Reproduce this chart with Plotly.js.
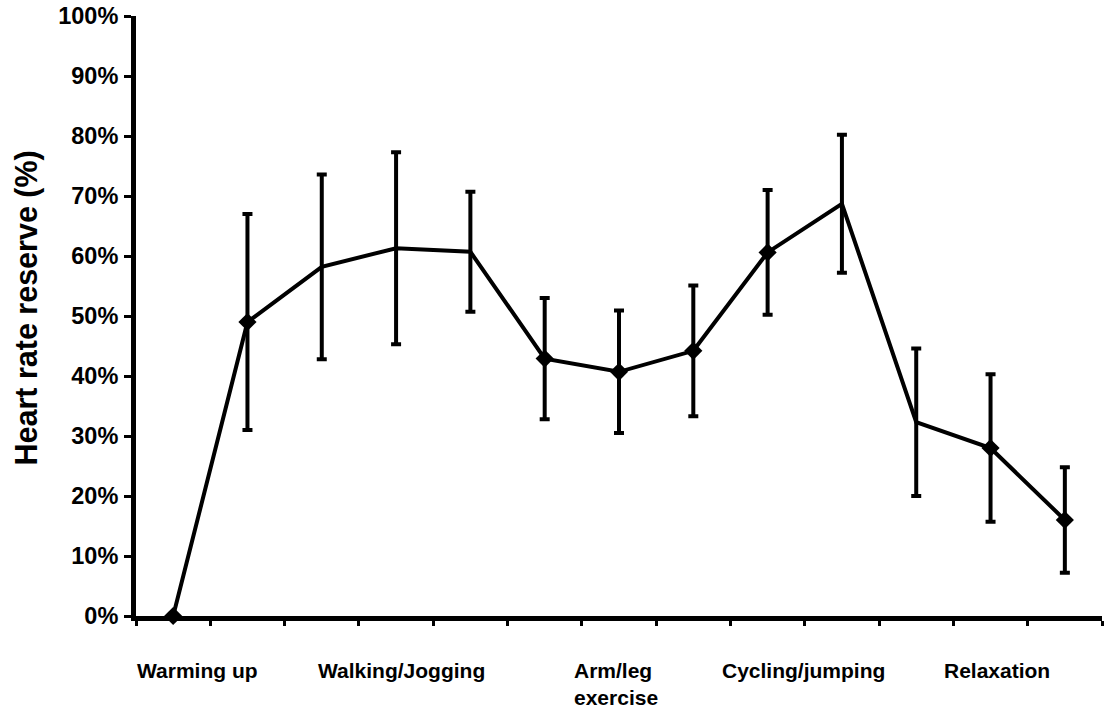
<!DOCTYPE html>
<html>
<head>
<meta charset="utf-8">
<script src="https://cdn.plot.ly/plotly-3.0.1.min.js"></script>
<style>html,body{margin:0;padding:0;background:#fff;}#chart{width:1104px;height:712px;}</style>
</head>
<body>
<div id="chart"></div>
<script>
// Data
var stepIndex = [0, 1, 2, 3, 4, 5, 6, 7, 8, 9, 10, 11, 12];
var hrReserve = [0, 49.0, 58.2, 61.3, 60.7, 42.9, 40.7, 44.2, 60.6, 68.7, 32.3, 28.0, 16.0];
var hrError   = [null, 18.0, 15.4, 16.0, 10.0, 10.1, 10.2, 10.9, 10.4, 11.5, 12.3, 12.3, 8.8];
var markedSteps = [0, 1, 5, 6, 7, 8, 11, 12];
var groupLabels = ['Warming up', 'Walking/Jogging', 'Arm/leg<br>exercise', 'Cycling/jumping', 'Relaxation'];
var groupCenters = [0.33, 3.07, 5.96, 8.48, 11.09];
var yTickVals = [0, 10, 20, 30, 40, 50, 60, 70, 80, 90, 100];
var boundaryTicks = [-0.5, 0.5, 1.5, 2.5, 3.5, 4.5, 5.5, 6.5, 7.5, 8.5, 9.5, 10.5, 11.5, 12.5];
var yTitle = 'Heart rate reserve (%)';

var FONT = 'Liberation Sans, Arial, Helvetica, sans-serif';

var lineTrace = {
  x: stepIndex,
  y: hrReserve,
  type: 'scatter',
  mode: 'lines',
  line: {color: '#000', width: 4},
  error_y: {type: 'data', array: hrError, visible: true, color: '#000', thickness: 4, width: 5},
  cliponaxis: false,
  showlegend: false,
  hoverinfo: 'skip'
};

var markerTrace = {
  x: markedSteps.map(function(i){ return stepIndex[i]; }),
  y: markedSteps.map(function(i){ return hrReserve[i]; }),
  type: 'scatter',
  mode: 'markers',
  marker: {symbol: 'diamond', size: 14, color: '#000', line: {width: 0}},
  cliponaxis: false,
  showlegend: false
};

var annotations = groupLabels.map(function(t, k){
  return {
    x: groupCenters[k], xref: 'x',
    y: -0.069, yref: 'paper',
    yanchor: 'top', xanchor: 'center',
    text: t, showarrow: false, align: 'left',
    font: {family: FONT, size: 21, color: '#000', weight: 'bold'}
  };
});
annotations.push({
  x: -0.1135, xref: 'paper', xanchor: 'center',
  y: 0.513, yref: 'paper', yanchor: 'middle',
  text: yTitle, textangle: -90, showarrow: false,
  font: {family: FONT, size: 30.5, color: '#000', weight: 'bold'}
});

var layout = {
  width: 1104, height: 712,
  margin: {l: 136, r: 2, t: 16, b: 96},
  paper_bgcolor: '#fff', plot_bgcolor: '#fff',
  font: {family: FONT, color: '#000'},
  showlegend: false,
  xaxis: {
    type: 'linear',
    range: [-0.5, 12.5],
    showgrid: false, zeroline: false,
    showline: true, linecolor: '#000', linewidth: 5,
    tickmode: 'array', tickvals: boundaryTicks, ticktext: boundaryTicks.map(function(){return '';}),
    ticks: 'outside', ticklen: 5, tickwidth: 3, tickcolor: '#000',
    showticklabels: false,
    fixedrange: true
  },
  yaxis: {
    range: [0, 100],
    showgrid: false, zeroline: false,
    showline: true, linecolor: '#000', linewidth: 5,
    tickmode: 'array', tickvals: yTickVals, ticktext: yTickVals.map(function(v){return v + '%';}),
    ticks: 'outside', ticklen: 7, tickwidth: 3, tickcolor: '#000',
    ticklabelstandoff: 1,
    tickfont: {family: FONT, size: 23.5, color: '#000', weight: 'bold'},
    fixedrange: true
  },
  annotations: annotations
};

Plotly.newPlot('chart', [lineTrace, markerTrace], layout, {displayModeBar: false, staticPlot: true});
</script>
</body>
</html>
